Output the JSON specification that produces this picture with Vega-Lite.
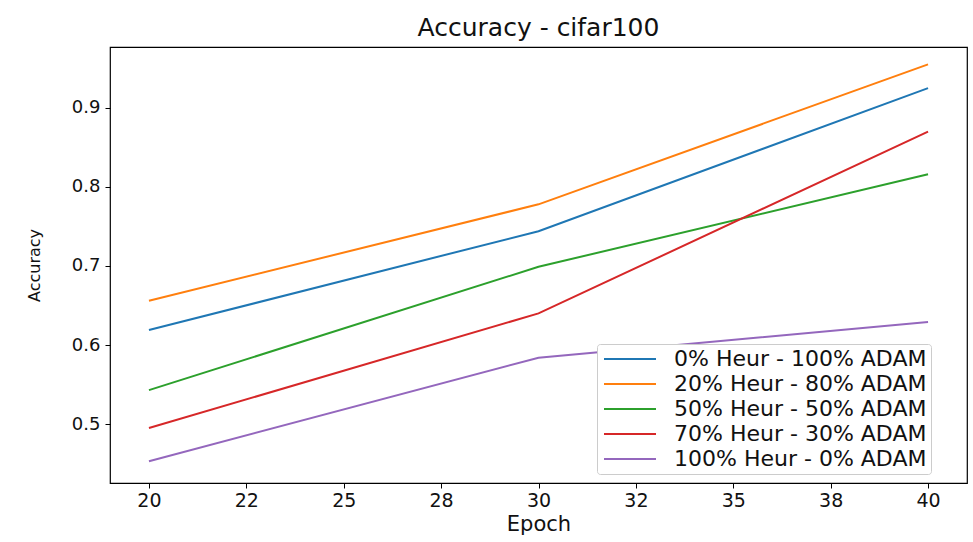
{
  "$schema": "https://vega.github.io/schema/vega-lite/v6.json",
  "width": 857,
  "height": 436,
  "autosize": {"type": "none"},
  "padding": {"left": 110, "top": 47, "right": 6, "bottom": 59},
  "background": "white",
  "title": {"text": "Accuracy - cifar100", "fontSize": 25, "font": "DejaVu Sans", "fontWeight": "normal", "color": "#111111", "offset": 6, "anchor": "middle"},
  "data": {"values": [
    {"series": "0% Heur - 100% ADAM", "epoch": 20, "acc": 0.619},
    {"series": "0% Heur - 100% ADAM", "epoch": 30, "acc": 0.744},
    {"series": "0% Heur - 100% ADAM", "epoch": 40, "acc": 0.925},
    {"series": "20% Heur - 80% ADAM", "epoch": 20, "acc": 0.656},
    {"series": "20% Heur - 80% ADAM", "epoch": 30, "acc": 0.778},
    {"series": "20% Heur - 80% ADAM", "epoch": 40, "acc": 0.955},
    {"series": "50% Heur - 50% ADAM", "epoch": 20, "acc": 0.543},
    {"series": "50% Heur - 50% ADAM", "epoch": 30, "acc": 0.699},
    {"series": "50% Heur - 50% ADAM", "epoch": 40, "acc": 0.816},
    {"series": "70% Heur - 30% ADAM", "epoch": 20, "acc": 0.495},
    {"series": "70% Heur - 30% ADAM", "epoch": 30, "acc": 0.640},
    {"series": "70% Heur - 30% ADAM", "epoch": 40, "acc": 0.870},
    {"series": "100% Heur - 0% ADAM", "epoch": 20, "acc": 0.453},
    {"series": "100% Heur - 0% ADAM", "epoch": 30, "acc": 0.584},
    {"series": "100% Heur - 0% ADAM", "epoch": 40, "acc": 0.629}
  ]},
  "mark": {"type": "line", "strokeWidth": 2},
  "encoding": {
    "x": {"field": "epoch", "type": "quantitative",
      "scale": {"domain": [19, 41], "nice": false, "zero": false},
      "axis": {"title": "Epoch", "values": [20, 22.5, 25, 27.5, 30, 32.5, 35, 37.5, 40],
        "labelExpr": "datum.value == 22.5 ? '22' : datum.value == 27.5 ? '28' : datum.value == 32.5 ? '32' : datum.value == 37.5 ? '38' : datum.label",
        "grid": false, "domain": false, "tickColor": "black", "tickSize": 5, "labelPadding": 3,
        "labelFont": "DejaVu Sans", "labelFontSize": 19, "labelColor": "#111111",
        "titleFont": "DejaVu Sans", "titleFontSize": 21, "titleFontWeight": "normal", "titleColor": "#111111", "titlePadding": 3}},
    "y": {"field": "acc", "type": "quantitative",
      "scale": {"domain": [0.4255, 0.977], "nice": false, "zero": false},
      "axis": {"title": "Accuracy", "values": [0.5, 0.6, 0.7, 0.8, 0.9], "format": ".1f",
        "grid": false, "domain": false, "tickColor": "black", "tickSize": 5, "labelPadding": 5,
        "labelFont": "DejaVu Sans", "labelFontSize": 18, "labelColor": "#111111",
        "titleFont": "DejaVu Sans", "titleFontSize": 16, "titleFontWeight": "normal", "titleColor": "#111111", "titlePadding": 29}},
    "color": {"field": "series", "type": "nominal",
      "sort": ["0% Heur - 100% ADAM", "20% Heur - 80% ADAM", "50% Heur - 50% ADAM", "70% Heur - 30% ADAM", "100% Heur - 0% ADAM"],
      "scale": {"range": ["#1f77b4", "#ff7f0e", "#2ca02c", "#d62728", "#9467bd"]},
      "legend": {"title": null, "orient": "none", "legendX": 487, "legendY": 297,
        "symbolType": "M-0.8,0H4.4", "symbolSize": 400, "symbolStrokeWidth": 2, "symbolFillColor": "transparent",
        "labelFont": "DejaVu Sans", "labelFontSize": 22, "labelColor": "#111111", "labelOffset": 51, "labelLimit": 500,
        "rowPadding": 3, "padding": 4, "fillColor": "white", "strokeColor": "#cccccc", "cornerRadius": 3}}
  },
  "config": {"view": {"stroke": "black", "strokeWidth": 1.2}}
}
